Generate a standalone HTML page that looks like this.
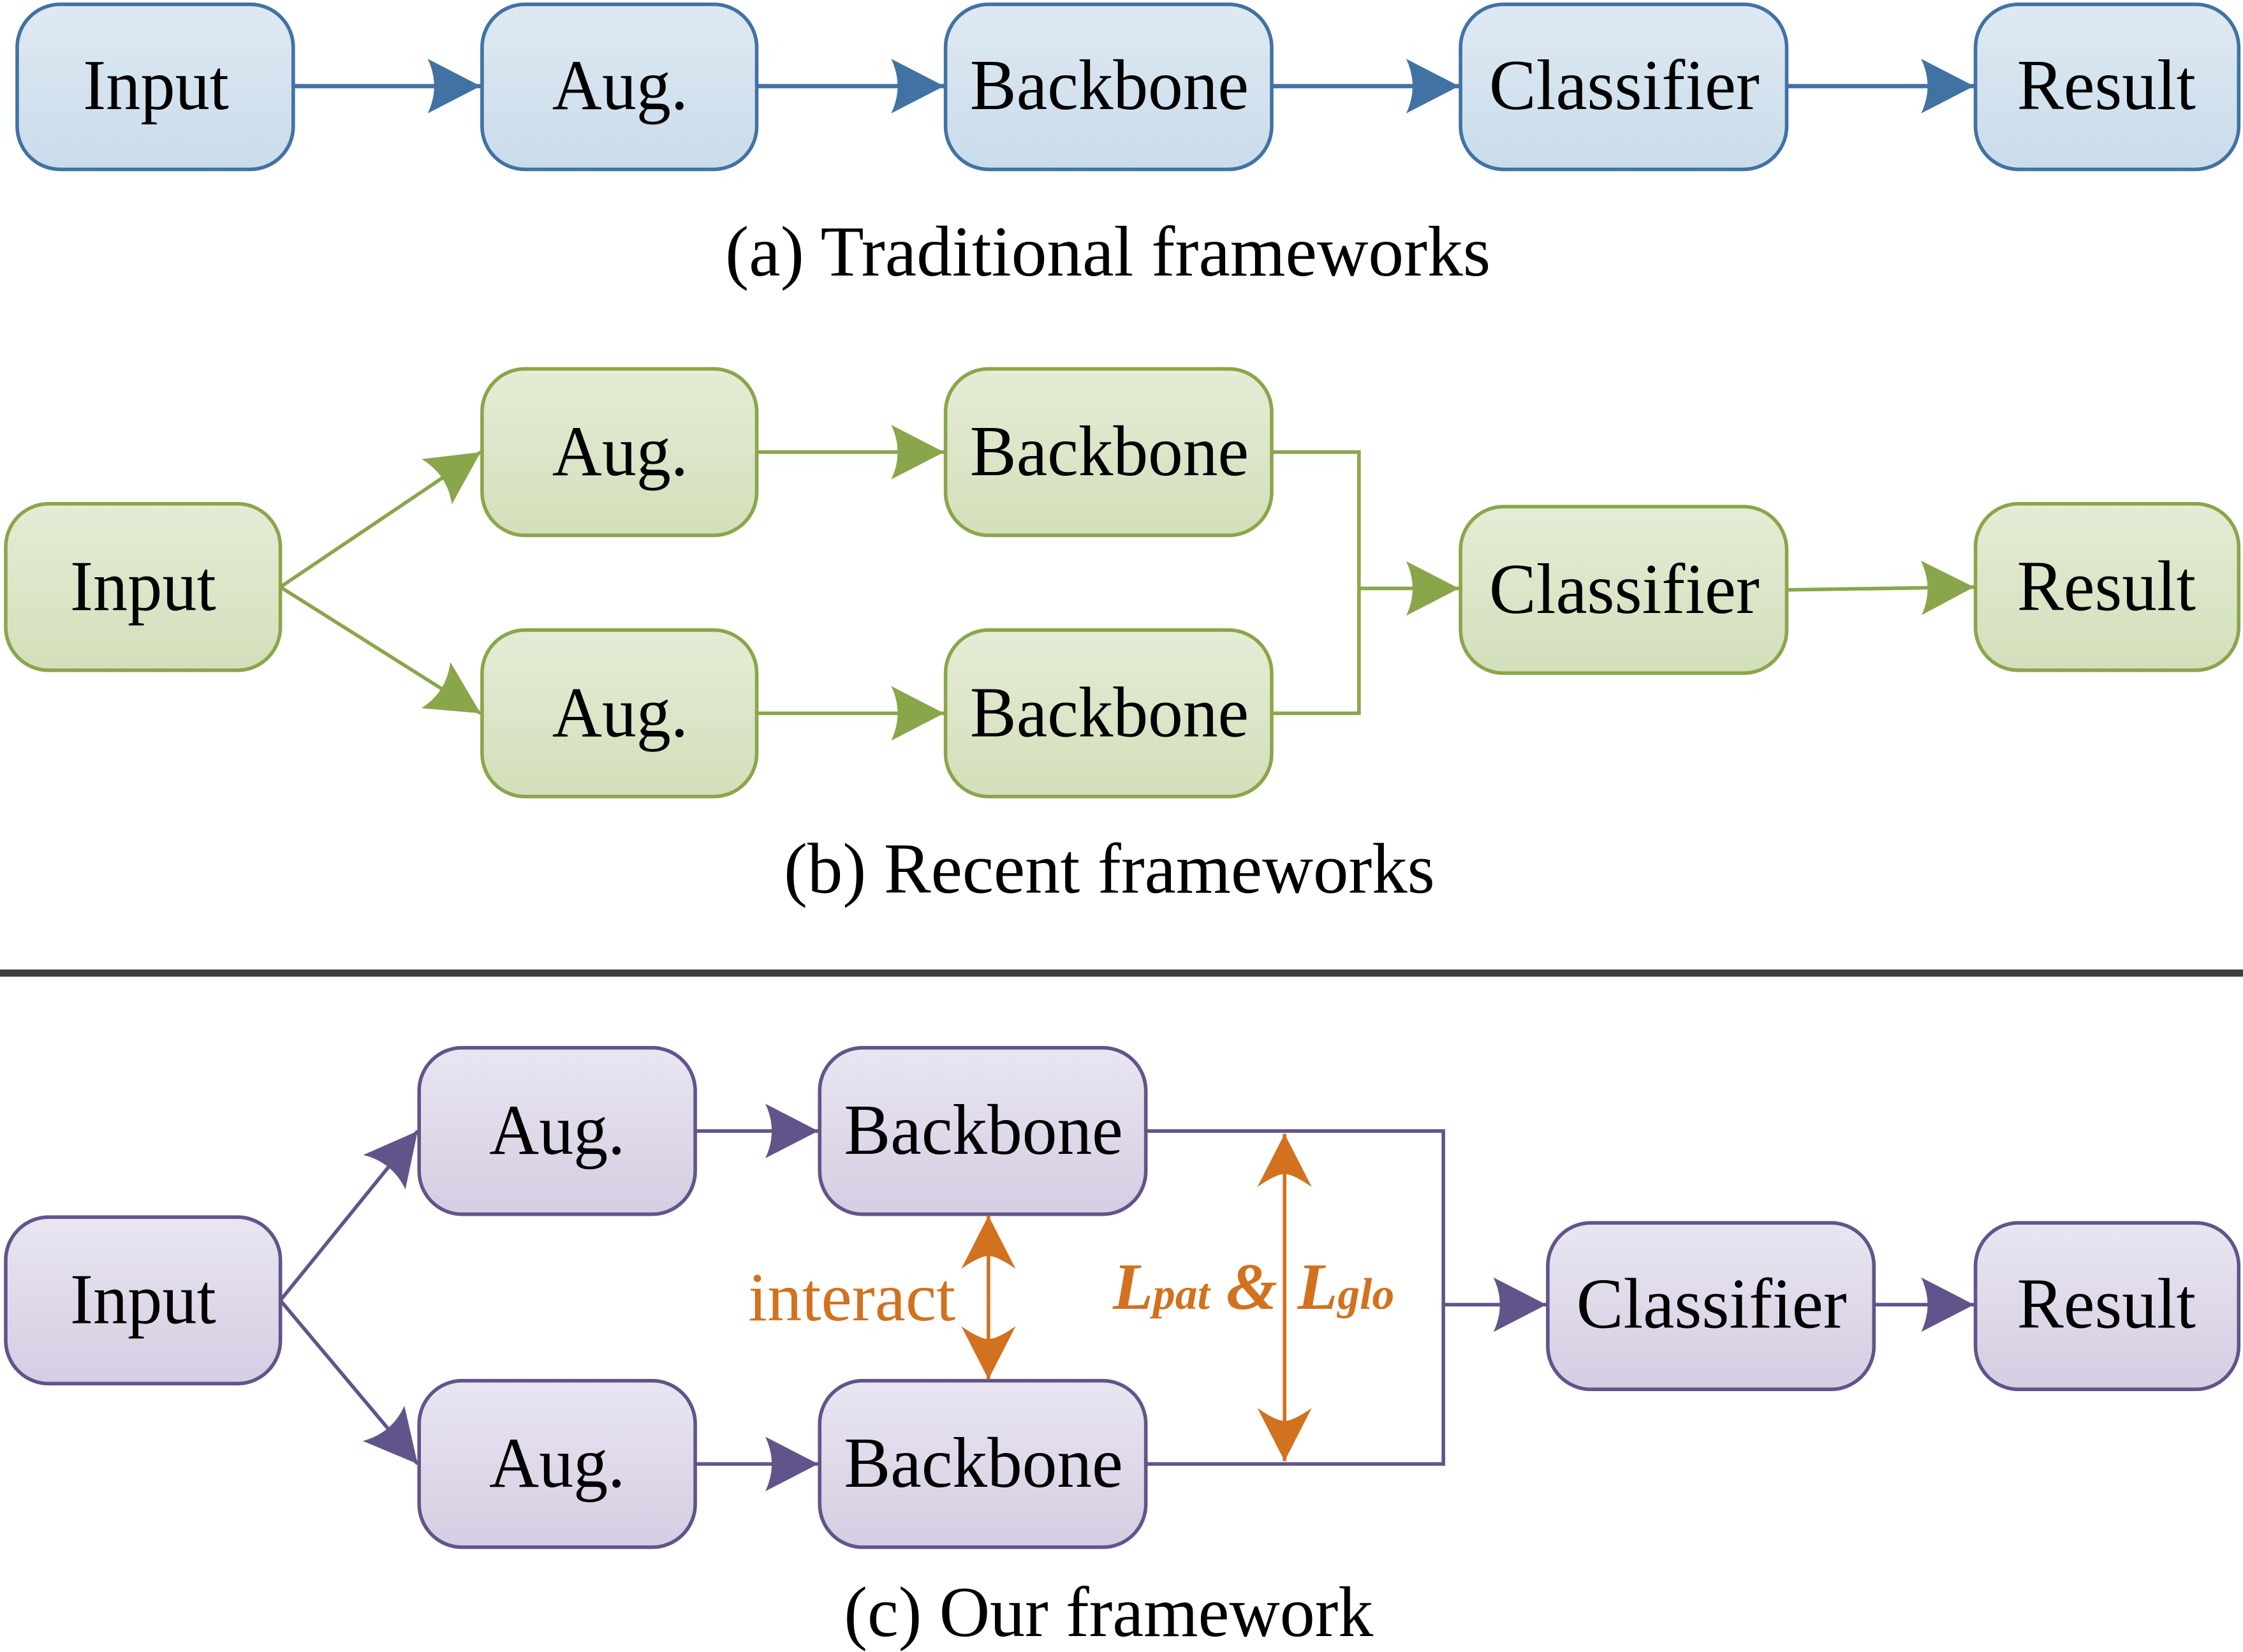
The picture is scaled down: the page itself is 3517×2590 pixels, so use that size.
<!DOCTYPE html>
<html><head><meta charset="utf-8"><style>
html,body{margin:0;padding:0;background:#fff;}
svg{display:block;}
text{font-family:"Liberation Serif",serif;}
</style></head><body>
<svg width="3517" height="2590" viewBox="0 0 1568 1151" preserveAspectRatio="none" xmlns="http://www.w3.org/2000/svg">
<defs>
<linearGradient id="gb" x1="0" y1="0" x2="0" y2="1"><stop offset="0" stop-color="#dfe9f3"/><stop offset="1" stop-color="#c9dcea"/></linearGradient>
<linearGradient id="gg" x1="0" y1="0" x2="0" y2="1"><stop offset="0" stop-color="#e5ecd6"/><stop offset="1" stop-color="#d3dfba"/></linearGradient>
<linearGradient id="gp" x1="0" y1="0" x2="0" y2="1"><stop offset="0" stop-color="#e9e5f1"/><stop offset="1" stop-color="#d5cde2"/></linearGradient>
<marker id="mb" markerUnits="userSpaceOnUse" viewBox="-38 -20 39 40" markerWidth="39" markerHeight="40" refX="0" refY="0" orient="auto"><path d="M0,0 L-37,-19 Q-28,0 -37,19 Z" fill="#4172a3"/></marker>
<marker id="mg" markerUnits="userSpaceOnUse" viewBox="-38 -20 39 40" markerWidth="39" markerHeight="40" refX="0" refY="0" orient="auto"><path d="M0,0 L-37,-19 Q-28,0 -37,19 Z" fill="#8aa64a"/></marker>
<marker id="mp" markerUnits="userSpaceOnUse" viewBox="-38 -20 39 40" markerWidth="39" markerHeight="40" refX="0" refY="0" orient="auto"><path d="M0,0 L-37,-19 Q-28,0 -37,19 Z" fill="#62548a"/></marker>
<marker id="mo" markerUnits="userSpaceOnUse" viewBox="-38 -20 39 40" markerWidth="39" markerHeight="40" refX="0" refY="0" orient="auto"><path d="M0,0 L-37,-19 Q-28,-6 -28,0 Q-28,6 -37,19 Z" fill="#d2711e"/></marker>
</defs>

<!-- (a) -->
<g stroke="#4172a3" stroke-width="2.5" fill="url(#gb)">
<rect x="12" y="3" width="193" height="115" rx="30"/>
<rect x="337" y="3" width="192" height="115" rx="30"/>
<rect x="661" y="3" width="228" height="115" rx="30"/>
<rect x="1021" y="3" width="228" height="115" rx="30"/>
<rect x="1381" y="3" width="184" height="115" rx="30"/>
</g>
<g stroke="#4172a3" stroke-width="3" fill="none">
<line x1="205" y1="60" x2="336" y2="60" marker-end="url(#mb)"/>
<line x1="529" y1="60" x2="660" y2="60" marker-end="url(#mb)"/>
<line x1="889" y1="60" x2="1020" y2="60" marker-end="url(#mb)"/>
<line x1="1249" y1="60" x2="1380" y2="60" marker-end="url(#mb)"/>
</g>
<g font-size="50" fill="#000" lengthAdjust="spacingAndGlyphs">
<text x="58" y="76" textLength="102" lengthAdjust="spacingAndGlyphs">Input</text>
<text x="386" y="76" textLength="95" lengthAdjust="spacingAndGlyphs">Aug.</text>
<text x="678" y="76" textLength="195" lengthAdjust="spacingAndGlyphs">Backbone</text>
<text x="1041" y="76" textLength="189" lengthAdjust="spacingAndGlyphs">Classifier</text>
<text x="1410" y="76" textLength="125" lengthAdjust="spacingAndGlyphs">Result</text>
</g>
<text x="507" y="192" font-size="50" textLength="535" lengthAdjust="spacingAndGlyphs">(a) Traditional frameworks</text>

<!-- (b) -->
<g stroke="#8aa64a" stroke-width="2.5" fill="url(#gg)">
<rect x="4" y="351" width="192" height="116" rx="30"/>
<rect x="337" y="257" width="192" height="116" rx="30"/>
<rect x="337" y="439" width="192" height="116" rx="30"/>
<rect x="661" y="257" width="228" height="116" rx="30"/>
<rect x="661" y="439" width="228" height="116" rx="30"/>
<rect x="1021" y="353" width="228" height="116" rx="30"/>
<rect x="1381" y="351" width="184" height="116" rx="30"/>
</g>
<g stroke="#8aa64a" stroke-width="2.5" fill="none">
<line x1="196" y1="409" x2="336" y2="315" marker-end="url(#mg)"/>
<line x1="196" y1="409" x2="336" y2="497" marker-end="url(#mg)"/>
<line x1="529" y1="315" x2="660" y2="315" marker-end="url(#mg)"/>
<line x1="529" y1="497" x2="660" y2="497" marker-end="url(#mg)"/>
<polyline points="889,315 950,315 950,497 889,497"/>
<line x1="950" y1="410" x2="1020" y2="410" marker-end="url(#mg)"/>
<line x1="1249" y1="411" x2="1380" y2="409" marker-end="url(#mg)"/>
</g>
<g font-size="50" fill="#000">
<text x="49" y="425" textLength="102" lengthAdjust="spacingAndGlyphs">Input</text>
<text x="386" y="331" textLength="95" lengthAdjust="spacingAndGlyphs">Aug.</text>
<text x="386" y="513" textLength="95" lengthAdjust="spacingAndGlyphs">Aug.</text>
<text x="678" y="331" textLength="195" lengthAdjust="spacingAndGlyphs">Backbone</text>
<text x="678" y="513" textLength="195" lengthAdjust="spacingAndGlyphs">Backbone</text>
<text x="1041" y="427" textLength="189" lengthAdjust="spacingAndGlyphs">Classifier</text>
<text x="1410" y="425" textLength="125" lengthAdjust="spacingAndGlyphs">Result</text>
</g>
<text x="548" y="622" font-size="50" textLength="455" lengthAdjust="spacingAndGlyphs">(b) Recent frameworks</text>

<line x1="0" y1="678" x2="1568" y2="678" stroke="#3f3f3f" stroke-width="5"/>

<!-- (c) -->
<g stroke="#62548a" stroke-width="2.5" fill="url(#gp)">
<rect x="4" y="848" width="192" height="116" rx="30"/>
<rect x="293" y="730" width="193" height="116" rx="30"/>
<rect x="293" y="962" width="193" height="116" rx="30"/>
<rect x="573" y="730" width="228" height="116" rx="30"/>
<rect x="573" y="962" width="228" height="116" rx="30"/>
<rect x="1082" y="852" width="228" height="116" rx="30"/>
<rect x="1381" y="852" width="184" height="116" rx="30"/>
</g>
<g stroke="#62548a" stroke-width="2.5" fill="none">
<line x1="196" y1="906" x2="292" y2="788" marker-end="url(#mp)"/>
<line x1="196" y1="906" x2="292" y2="1020" marker-end="url(#mp)"/>
<line x1="486" y1="788" x2="572" y2="788" marker-end="url(#mp)"/>
<line x1="486" y1="1020" x2="572" y2="1020" marker-end="url(#mp)"/>
<polyline points="801,788 1009,788 1009,1020 801,1020"/>
<line x1="1009" y1="909" x2="1081" y2="909" marker-end="url(#mp)"/>
<line x1="1310" y1="909" x2="1380" y2="909" marker-end="url(#mp)"/>
</g>
<g stroke="#d2711e" stroke-width="2.5" fill="none">
<line x1="691" y1="904" x2="691" y2="847" marker-end="url(#mo)"/>
<line x1="691" y1="904" x2="691" y2="961" marker-end="url(#mo)"/>
<line x1="898" y1="904" x2="898" y2="790" marker-end="url(#mo)"/>
<line x1="898" y1="904" x2="898" y2="1018" marker-end="url(#mo)"/>
</g>
<g font-size="50" fill="#000">
<text x="49" y="922" textLength="102" lengthAdjust="spacingAndGlyphs">Input</text>
<text x="342" y="804" textLength="95" lengthAdjust="spacingAndGlyphs">Aug.</text>
<text x="342" y="1036" textLength="95" lengthAdjust="spacingAndGlyphs">Aug.</text>
<text x="590" y="804" textLength="195" lengthAdjust="spacingAndGlyphs">Backbone</text>
<text x="590" y="1036" textLength="195" lengthAdjust="spacingAndGlyphs">Backbone</text>
<text x="1102" y="925" textLength="189" lengthAdjust="spacingAndGlyphs">Classifier</text>
<text x="1410" y="925" textLength="125" lengthAdjust="spacingAndGlyphs">Result</text>
</g>
<text x="523" y="920" font-size="48" fill="#d2711e" textLength="145" lengthAdjust="spacingAndGlyphs">interact</text>
<text x="778" y="912" fill="#d2711e" font-weight="bold" font-style="italic" font-size="46">L<tspan font-size="31">pat</tspan> &amp;</text>
<text x="907" y="912" fill="#d2711e" font-weight="bold" font-style="italic" font-size="46">L<tspan font-size="31">glo</tspan></text>
<text x="590" y="1140" font-size="50" textLength="370" lengthAdjust="spacingAndGlyphs">(c) Our framework</text>
</svg>
</body></html>
